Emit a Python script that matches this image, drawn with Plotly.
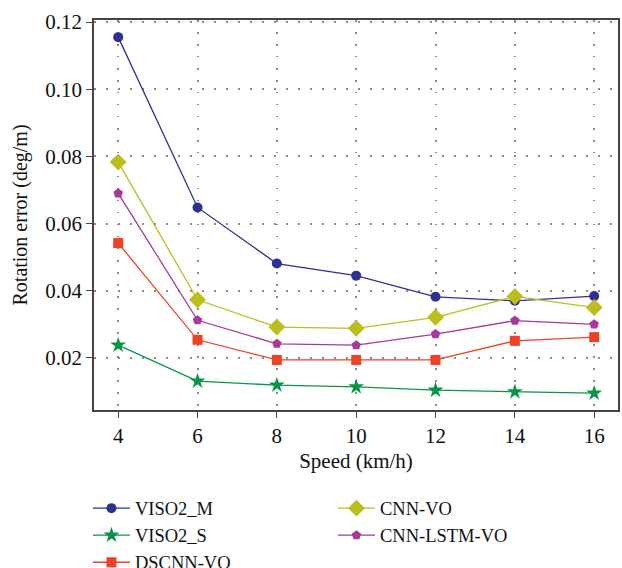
import plotly.graph_objects as go

speed = [4, 6, 8, 10, 12, 14, 16]
viso2_m = [0.1155, 0.0648, 0.0481, 0.0445, 0.0382, 0.0370, 0.0384]
viso2_s = [0.0238, 0.0131, 0.0119, 0.0114, 0.0104, 0.0099, 0.0095]
dscnn_vo = [0.0542, 0.0254, 0.0194, 0.0194, 0.0194, 0.0251, 0.0262]
cnn_vo = [0.0783, 0.0373, 0.0292, 0.0288, 0.0321, 0.0383, 0.0350]
cnn_lstm_vo = [0.0690, 0.0312, 0.0242, 0.0238, 0.0271, 0.0311, 0.0300]

x_ticks = [4, 6, 8, 10, 12, 14, 16]
y_ticks = [0.02, 0.04, 0.06, 0.08, 0.10, 0.12]
y_tick_labels = ["0.02", "0.04", "0.06", "0.08", "0.10", "0.12"]

FONT = "'Liberation Serif', 'DejaVu Serif', serif"

# legend order is row-major: (VISO2_M, CNN-VO), (VISO2_S, CNN-LSTM-VO), (DSCNN-VO)
series = [
    ("VISO2_M", viso2_m, "#2E3192", "circle", 10),
    ("CNN-VO", cnn_vo, "#BCBE1E", "diamond", 13),
    ("VISO2_S", viso2_s, "#0A9447", "star", 12),
    ("CNN-LSTM-VO", cnn_lstm_vo, "#A6399A", "pentagon", 10),
    ("DSCNN-VO", dscnn_vo, "#EF4123", "square", 10),
]

fig = go.Figure()
for name, vals, color, sym, size in series:
    fig.add_trace(go.Scatter(
        x=speed, y=vals, name=name, mode="lines+markers",
        line=dict(color=color, width=1.3),
        marker=dict(symbol=sym, size=size, color=color, line=dict(width=0)),
    ))

fig.update_layout(
    width=622, height=568,
    margin=dict(l=94, r=4, t=20, b=158, autoexpand=False),
    paper_bgcolor="white", plot_bgcolor="white",
    font=dict(family=FONT, size=21, color="#111"),
    legend=dict(
        orientation="h", x=0.1414, xref="container", xanchor="left",
        y=0.138, yref="container", yanchor="top",
        entrywidth=193, entrywidthmode="pixels", itemwidth=37,
        font=dict(family=FONT, size=18.5, color="#111"),
        tracegroupgap=0, itemsizing="trace",
        traceorder="normal",
    ),
    showlegend=True,
)

grid = dict(showgrid=True, gridcolor="#8a8a8a", griddash="1.5px,10.5px", gridwidth=1.5)

fig.update_xaxes(
    range=[3.39, 16.6], tickvals=x_ticks, ticktext=[str(v) for v in x_ticks],
    showline=True, linecolor="#444", linewidth=1.5, mirror=True,
    ticks="outside", ticklen=6, tickcolor="#444", zeroline=False,
    title=dict(text="Speed (km/h)", font=dict(family=FONT, size=21), standoff=6),
    tickfont=dict(family=FONT, size=21), **grid,
)
fig.update_yaxes(
    range=[0.0045, 0.1206], tickvals=y_ticks, ticktext=y_tick_labels,
    showline=True, linecolor="#444", linewidth=1.5, mirror=True,
    ticks="outside", ticklen=6, tickcolor="#444", zeroline=False,
    title=dict(text="Rotation error (deg/m)", font=dict(family=FONT, size=20), standoff=12),
    tickfont=dict(family=FONT, size=21), **grid,
)

fig.write_html("out.html")
